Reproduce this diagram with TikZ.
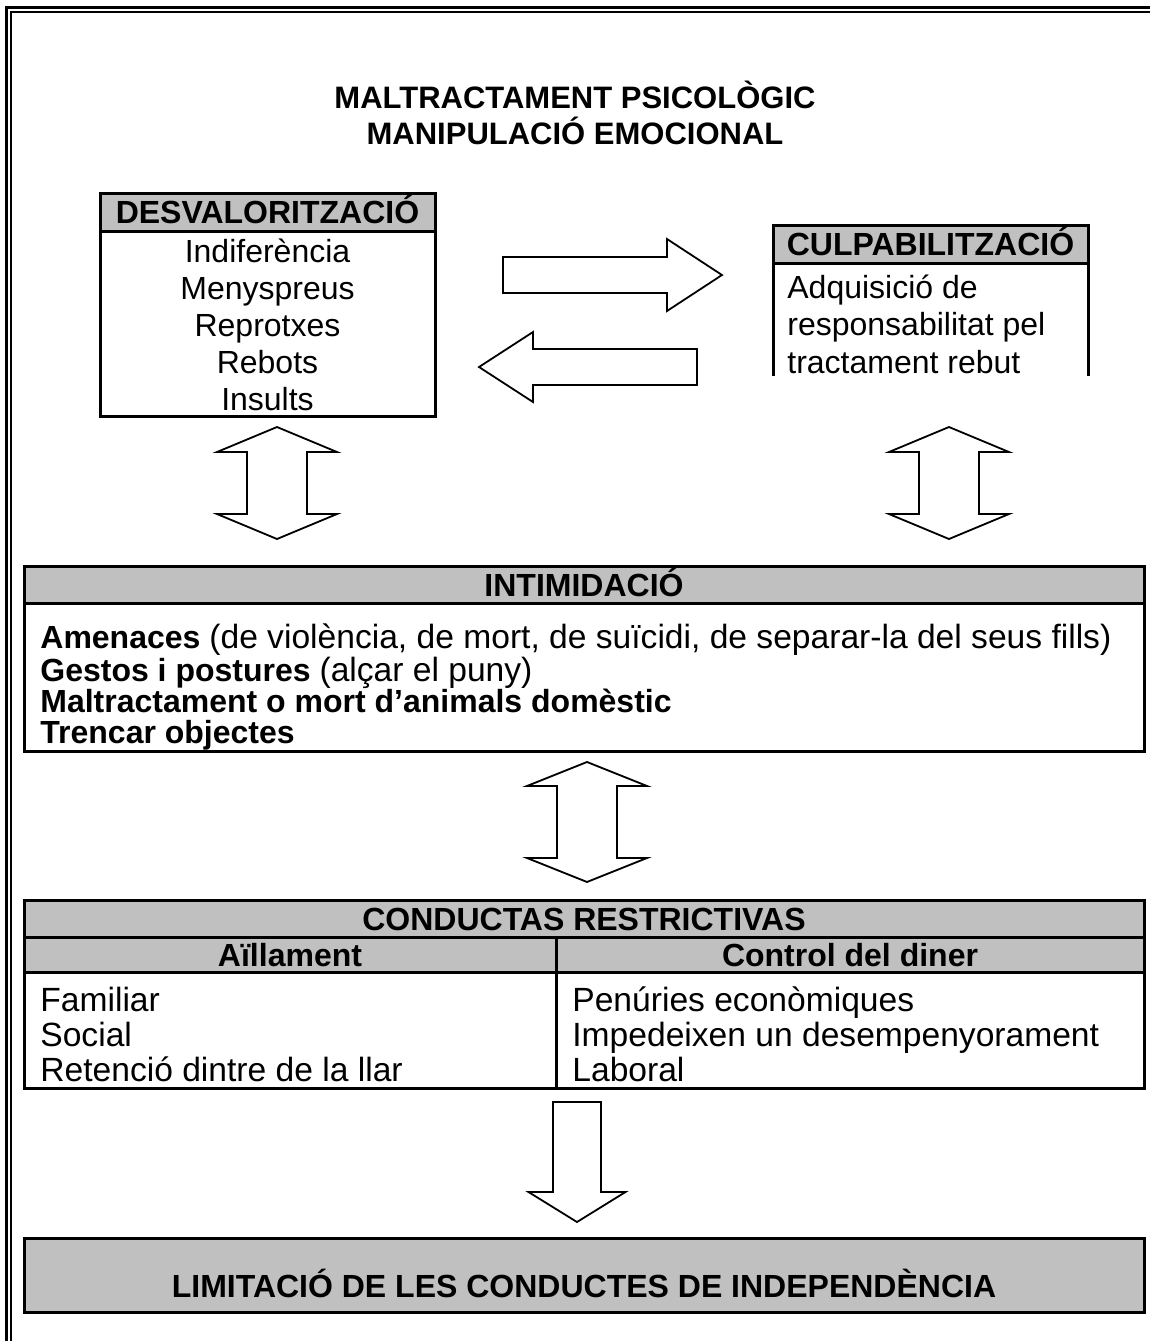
\documentclass[tikz,border=0pt]{standalone}
\usepackage{fontspec}
\setmainfont{Liberation Sans}
\usepackage{tikz}
\usetikzlibrary{positioning, calc}

\definecolor{hdrgray}{RGB}{192,192,192}

% hollow block arrow: from, to, shaft half width, head half width, head length
\newcommand{\blockarrow}[5]{%
    \coordinate (ba) at ($(#2)!#5!(#1)$);
    \draw[hollow] ($(#1)!#3!90:(#2)$) -- ($(ba)!#3!90:(#2)$) -- ($(ba)!#4!90:(#2)$) -- (#2)
        -- ($(ba)!#4!-90:(#2)$) -- ($(ba)!#3!-90:(#2)$) -- ($(#1)!#3!-90:(#2)$) -- cycle;}
\newcommand{\twowayarrow}[5]{%
    \coordinate (ba) at ($(#2)!#5!(#1)$);
    \coordinate (bb) at ($(#1)!#5!(#2)$);
    \draw[hollow] (#1) -- ($(bb)!#4!90:(#2)$) -- ($(bb)!#3!90:(#2)$) -- ($(ba)!#3!90:(#2)$)
        -- ($(ba)!#4!90:(#2)$) -- (#2) -- ($(ba)!#4!-90:(#2)$) -- ($(ba)!#3!-90:(#2)$)
        -- ($(bb)!#3!-90:(#2)$) -- ($(bb)!#4!-90:(#2)$) -- cycle;}
\newcommand{\plaintxt}[1]{{\fontsize{16.8}{15.4}\selectfont\mdseries #1}}

\begin{document}
\begin{tikzpicture}[x=0.5pt, y=-0.5pt]
    \tikzstyle{header} = [draw, fill=hdrgray, line width=1.5pt, inner sep=0pt, outer sep=0pt, font=\fontsize{16}{18}\selectfont\bfseries, text height=11.5pt, text depth=0pt];
    \tikzstyle{body} = [draw, line width=1.5pt, inner sep=0pt, outer sep=0pt];
    \tikzstyle{txt} = [inner sep=0pt, font=\fontsize{16}{18}\selectfont];
    \tikzstyle{hollow} = [draw, line width=0.9pt, line join=miter];

    \useasboundingbox (0,0) rectangle (1150,1341);

    % double frame, left and top
    \draw[line width=1.5pt] (6.5,1341) -- (6.5,7.5) -- (1150,7.5);
    \draw[line width=1pt] (11,1341) -- (11,12) -- (1150,12);

    \node[txt, font=\fontsize{15.5}{18}\selectfont\bfseries, anchor=base] (title) at (575,108) {MALTRACTAMENT PSICOLÒGIC};
    \node[txt, font=\fontsize{15.5}{18}\selectfont\bfseries, anchor=base] (subtitle) at (575,144) {MANIPULACIÓ EMOCIONAL};

    % desvaloritzacio
    \node[header, minimum width=167.5pt, minimum height=19pt, anchor=north west] (desvalhead) at (100,193) {DESVALORITZACIÓ};
    \node[body, minimum width=167.5pt, minimum height=92.5pt, below=0pt of desvalhead] (desval) {};
    \node[txt, font=\fontsize{16}{18.5}\selectfont, align=center, anchor=base] (desvallist) at ([yshift=-89.5pt]desval.north) {Indiferència\\Menyspreus\\Reprotxes\\Rebots\\Insults};

    % culpabilitzacio
    \node[header, minimum width=157.5pt, minimum height=19pt, anchor=north west] (culphead) at (773,225) {CULPABILITZACIÓ};
    \node[inner sep=0pt, outer sep=0pt, minimum width=157.5pt, minimum height=56.5pt, below=0pt of culphead] (culp) {};
    \draw[line width=1.5pt] (culp.north west) -- (culp.south west);
    \draw[line width=1.5pt] (culp.north east) -- (culp.south east);
    \node[txt, font=\fontsize{16}{18.75}\selectfont, align=left, anchor=base west] (culplist) at ([xshift=7pt, yshift=-55pt]culp.north west) {Adquisició de\\responsabilitat pel\\tractament rebut};

    \coordinate (ra) at (503,275);
    \coordinate (rb) at (722,275);
    \coordinate (la) at (697,367);
    \coordinate (lb) at (479,367);
    \blockarrow{ra}{rb}{9pt}{18pt}{27.5pt}
    \blockarrow{la}{lb}{9pt}{17.5pt}{27pt}

    \coordinate (dva) at (277,427);
    \coordinate (dvb) at (277,539);
    \coordinate (cpa) at (949,427);
    \coordinate (cpb) at (949,539);
    \twowayarrow{dva}{dvb}{15pt}{30pt}{12.5pt}
    \twowayarrow{cpa}{cpb}{15pt}{30pt}{12.5pt}

    % intimidacio
    \node[header, minimum width=560pt, minimum height=18.5pt, anchor=north west] (intimhead) at (24,566) {INTIMIDACIÓ};
    \node[body, minimum width=560pt, minimum height=74pt, below=0pt of intimhead] (intim) {};
    \node[txt, font=\fontsize{16}{15.4}\selectfont\bfseries, align=left, anchor=base west] (intimlist) at ([xshift=8pt, yshift=-70pt]intim.north west) {Amenaces \plaintxt{(de violència, de mort, de suïcidi, de separar-la del seus fills)}\\Gestos i postures \plaintxt{(alçar el puny)}\\Maltractament o mort d’animals domèstic\\Trencar objectes};

    \coordinate (ina) at (587,762);
    \coordinate (inb) at (587,882);
    \twowayarrow{ina}{inb}{15pt}{30pt}{12pt}

    % conductas restrictivas
    \node[header, minimum width=560pt, minimum height=18.5pt, anchor=north west] (condhead) at (24,900) {CONDUCTAS RESTRICTIVAS};
    \node[header, minimum width=266pt, minimum height=17.5pt, anchor=north west] (aillhead) at (condhead.south west) {Aïllament};
    \node[header, minimum width=294pt, minimum height=17.5pt, anchor=north west] (dinerhead) at (aillhead.north east) {Control del diner};
    \node[body, minimum width=266pt, minimum height=58pt, anchor=north west] (aill) at (aillhead.south west) {};
    \node[body, minimum width=294pt, minimum height=58pt, anchor=north west] (diner) at (aillhead.south east) {};
    \node[txt, font=\fontsize{16.8}{17.5}\selectfont, align=left, anchor=base west] (aillist) at ([xshift=8pt, yshift=-54.5pt]aill.north west) {Familiar\\Social\\Retenció dintre de la llar};
    \node[txt, font=\fontsize{16.8}{17.5}\selectfont, align=left, anchor=base west] (dinerlist) at ([xshift=8pt, yshift=-54.5pt]diner.north west) {Penúries econòmiques\\Impedeixen un desempenyorament\\Laboral};

    \coordinate (dwa) at (577,1102);
    \coordinate (dwb) at (577,1222);
    \blockarrow{dwa}{dwb}{12pt}{24.25pt}{15pt}

    \node[header, minimum width=560pt, minimum height=37pt, text height=22.5pt, anchor=north west] (limit) at (24,1238) {LIMITACIÓ DE LES CONDUCTES DE INDEPENDÈNCIA};
\end{tikzpicture}
\end{document}
